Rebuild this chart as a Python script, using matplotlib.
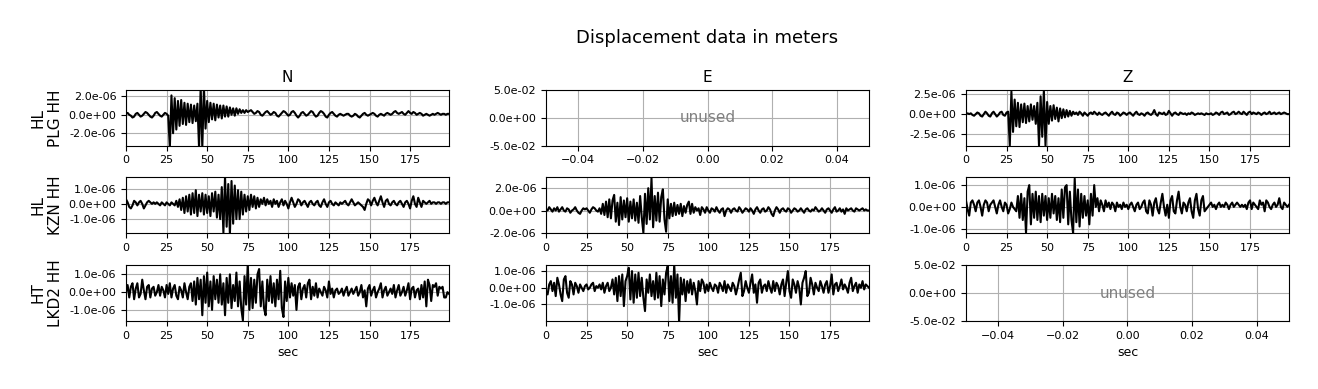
import numpy as np
import matplotlib
matplotlib.use("Agg")
import matplotlib.pyplot as plt
from matplotlib.ticker import FormatStrFormatter

# displacement traces, one value per second, in micrometres
plg_n = [
    0.1, 0.2, 0.0, -0.1, -0.3, -0.2, 0.1, 0.2, 0.0, -0.2,
    -0.1, 0.1, 0.3, 0.2, 0.0, -0.2, -0.3, -0.1, 0.2, 0.3,
    0.1, -0.1, -0.2, 0.0, 0.2, 0.1, -0.1, -3.6, 2.1, -2.0,
    1.8, -1.6, 1.5, -1.2, 1.6, -1.0, 1.3, -1.1, 1.2, -0.8,
    1.1, -0.9, 1.0, -0.7, 1.2, -3.6, 3.0, -3.6, 3.0, -1.5,
    1.5, -0.8, 1.3, -0.5, 1.2, -0.6, 1.1, -0.3, 1.0, -0.4,
    1.0, -0.2, 0.9, -0.2, 0.8, 0.0, 0.7, -0.1, 0.7, 0.1,
    0.6, 0.2, 0.5, 0.2, 0.5, 0.3, 0.4, 0.5, 0.3, 0.1,
    0.2, 0.4, 0.3, 0.0, -0.1, 0.1, 0.3, 0.4, 0.2, 0.0,
    0.1, 0.3, 0.2, -0.1, -0.2, 0.0, 0.2, 0.4, 0.3, 0.1,
    -0.1, 0.0, 0.3, 0.4, 0.2, -0.1, -0.3, -0.1, 0.2, 0.3,
    0.1, -0.1, 0.0, 0.2, 0.4, 0.3, 0.0, -0.2, -0.1, 0.2,
    0.4, 0.3, 0.1, -0.2, -0.3, 0.0, 0.2, 0.3, 0.1, -0.1,
    -0.2, 0.0, 0.1, 0.0, -0.1, 0.0, 0.1, 0.1, -0.1, -0.2,
    -0.1, 0.1, 0.0, -0.2, -0.3, -0.1, 0.1, 0.2, 0.0, -0.1,
    0.0, 0.1, 0.2, 0.1, -0.1, -0.2, 0.0, 0.1, 0.0, -0.1,
    0.1, 0.2, 0.1, 0.0, 0.1, 0.3, 0.4, 0.2, 0.1, 0.2,
    0.3, 0.1, 0.0, 0.2, 0.4, 0.2, 0.1, 0.3, 0.2, 0.0,
    0.1, 0.2, 0.1, -0.1, 0.0, 0.1, 0.0, -0.1, 0.0, 0.1,
    0.0, 0.1, 0.2, 0.1, 0.0, 0.1, 0.1, 0.0, 0.1, 0.1,
]
plg_z = [
    0.0, 0.1, 0.0, 0.1, -0.1, -0.2, 0.0, 0.2, 0.1, -0.2,
    -0.3, 0.0, 0.3, 0.1, -0.2, -0.3, 0.1, 0.3, 0.0, -0.3,
    -0.1, 0.2, 0.3, -0.1, -0.2, 0.2, 0.3, -3.9, 2.8, -2.2,
    1.8, -1.5, 1.4, -1.6, 1.2, -1.0, 1.3, -1.1, 1.0, -0.9,
    1.2, -0.7, 1.0, -1.2, 1.4, -3.9, 2.2, -2.8, 3.0, -3.9,
    1.5, -1.2, 1.0, -0.8, 1.1, -0.6, 0.8, -0.9, 0.7, -0.5,
    0.6, -0.4, 0.5, -0.3, 0.4, -0.2, 0.3, 0.0, 0.2, -0.1,
    0.3, 0.1, -0.2, 0.2, 0.0, -0.2, 0.1, 0.2, 0.0, 0.3,
    0.1, -0.1, 0.2, 0.0, -0.1, 0.1, 0.2, 0.0, -0.2, 0.1,
    0.3, 0.0, -0.1, 0.2, 0.1, -0.2, 0.0, 0.2, 0.1, -0.1,
    0.1, 0.2, 0.0, -0.2, 0.1, 0.3, 0.0, -0.1, 0.1, 0.0,
    -0.2, 0.1, 0.2, 0.0, -0.1, 0.1, 0.5, 0.0, -0.2, 0.2,
    0.1, 0.0, 0.2, -0.1, 0.0, 0.4, 0.1, -0.2, 0.1, 0.2,
    0.0, -0.1, 0.2, 0.1, 0.0, 0.1, -0.1, 0.1, 0.0, 0.2,
    0.1, -0.1, 0.0, 0.1, 0.0, 0.1, 0.0, -0.1, 0.1, 0.0,
    0.0, 0.1, -0.1, 0.0, 0.2, 0.1, -0.1, 0.2, 0.3, 0.0,
    0.1, 0.2, -0.1, 0.0, 0.2, 0.3, 0.0, 0.1, 0.3, 0.1,
    0.0, 0.3, 0.1, -0.1, 0.2, 0.3, 0.0, 0.2, 0.1, 0.0,
    0.2, 0.1, -0.1, 0.1, 0.2, 0.0, 0.1, 0.3, 0.0, 0.1,
    0.2, 0.0, 0.1, 0.2, 0.0, 0.1, 0.2, 0.1, 0.0, 0.0,
]
kzn_n = [
    0.3, 0.1, -0.2, -0.3, -0.1, 0.2, 0.1, -0.1, 0.1, 0.2,
    0.0, -0.3, -0.1, 0.1, 0.2, 0.1, 0.0, 0.1, 0.0, 0.1,
    0.0, -0.1, 0.1, 0.0, -0.1, 0.1, 0.0, -0.1, 0.1, 0.0,
    -0.1, 0.2, -0.2, 0.3, -0.4, 0.4, -0.6, 0.5, -0.5, 0.6,
    -0.7, 0.7, -0.6, 0.9, -0.8, 0.6, -0.5, 0.7, -0.7, 0.6,
    -0.6, 0.5, -0.8, 0.7, -0.5, 0.8, -0.9, 0.6, -1.0, 1.1,
    -1.9, 1.8, -1.5, 1.3, -2.0, 1.5, -1.3, 1.2, -1.0, 0.9,
    -1.0, 0.8, -0.7, 0.6, -0.5, 0.5, -0.4, 0.6, -0.2, 0.5,
    -0.3, 0.4, -0.2, 0.3, 0.0, 0.4, -0.1, 0.3, 0.0, 0.2,
    -0.2, 0.3, 0.0, 0.2, -0.2, 0.1, 0.3, -0.1, 0.2, 0.0,
    -0.3, 0.1, 0.4, 0.1, -0.2, 0.0, 0.3, 0.2, -0.1, 0.1,
    0.2, 0.0, -0.2, 0.1, 0.2, 0.0, -0.1, 0.1, 0.2, -0.1,
    -0.2, 0.1, 0.3, 0.0, -0.2, 0.1, 0.2, 0.0, -0.1, 0.1,
    0.0, -0.1, 0.1, 0.0, 0.1, 0.2, 0.0, -0.1, 0.1, 0.3,
    0.1, -0.1, 0.0, 0.1, 0.0, -0.1, -0.2, -0.4, 0.0, 0.3,
    0.2, -0.1, 0.2, 0.4, 0.1, -0.1, 0.2, 0.5, 0.1, -0.2,
    0.2, 0.3, 0.0, -0.1, 0.1, 0.2, 0.0, -0.1, 0.1, 0.2,
    0.0, -0.2, 0.1, 0.2, 0.0, -0.3, 0.2, 0.5, 0.0, -0.2,
    0.4, 0.1, -0.2, 0.2, 0.1, 0.0, 0.1, 0.2, 0.0, 0.1,
    0.1, 0.0, 0.1, 0.1, 0.0, 0.1, 0.1, 0.0, 0.1, 0.1,
]
kzn_e = [
    0.1, 0.0, 0.3, 0.1, -0.1, 0.2, 0.0, 0.3, -0.1, 0.1,
    0.3, 0.0, -0.1, 0.2, 0.1, -0.2, 0.0, 0.1, 0.3, 0.0,
    -0.2, -0.3, 0.0, 0.2, 0.1, 0.2, 0.0, -0.2, 0.1, 0.3,
    0.2, 0.0, -0.1, 0.2, -0.3, 0.6, -0.4, 0.8, -0.6, 1.0,
    -0.7, 0.9, 1.4, -1.0, 0.7, -1.3, 1.2, -0.8, 0.9, -0.6,
    1.1, -1.0, 0.8, -0.7, 1.0, -0.9, 0.7, -1.1, 1.3, -0.6,
    -2.0, 1.5, -1.2, 2.0, -0.8, 2.9, -1.5, 1.3, -0.9, 1.6,
    -1.0, 1.2, 1.9, -0.8, -1.9, 1.0, -0.7, 0.6, -0.5, 0.7,
    -0.4, 0.5, -0.3, 0.6, -0.5, 0.4, -0.2, 0.5, 0.8, -0.3,
    0.6, -0.2, 0.3, 0.0, 0.2, -0.4, 0.3, 0.1, -0.2, 0.3,
    0.0, -0.2, 0.2, 0.1, -0.1, 0.3, 0.0, -0.2, 0.1, 0.2,
    -0.5, 0.0, 0.2, 0.1, -0.2, 0.1, 0.2, 0.0, -0.1, 0.3,
    0.1, -0.2, 0.0, 0.2, 0.1, -0.1, 0.2, 0.0, -0.3, 0.1,
    0.3, 0.0, -0.2, 0.1, 0.2, -0.1, 0.0, 0.3, 0.1, -0.3,
    -0.5, 0.0, 0.3, 0.1, -0.2, 0.1, 0.2, 0.0, -0.1, 0.2,
    0.1, -0.2, 0.0, 0.2, 0.1, -0.1, 0.0, 0.2, 0.0, -0.2,
    0.1, 0.2, 0.0, -0.1, 0.1, 0.0, 0.3, 0.1, -0.1, 0.0,
    0.2, 0.0, -0.2, 0.1, 0.2, 0.0, -0.2, 0.1, 0.3, -0.1,
    0.0, 0.2, -0.1, 0.1, -0.3, 0.2, 0.0, 0.1, 0.2, 0.0,
    -0.1, 0.2, 0.1, 0.0, 0.1, 0.2, 0.0, 0.1, 0.0, 0.0,
]
kzn_z = [
    0.3, -0.1, -0.4, 0.2, 0.3, 0.1, -0.2, 0.2, 0.3, 0.0,
    -0.4, 0.1, 0.3, 0.2, -0.2, 0.1, 0.2, 0.3, 0.0, -0.3,
    0.1, 0.3, 0.0, -0.2, 0.2, 0.1, -0.3, -0.1, 0.2, 0.0,
    -0.1, -0.2, 0.5, -0.5, 0.6, -0.6, 0.4, -1.2, 0.7, 1.0,
    -0.8, 0.6, -0.5, 0.7, -0.6, 0.5, -0.7, 0.6, -0.4, 0.5,
    -0.6, 0.4, -0.5, 0.6, -0.3, 0.5, -0.6, 0.4, -0.7, 0.8,
    -0.5, 0.9, 1.0, -0.8, 0.7, -0.6, -1.2, 1.3, -0.7, 0.8,
    -0.9, 0.6, -0.5, 0.5, -0.4, 0.3, -0.8, 0.6, -0.4, 1.0,
    0.0, 0.4, -0.2, 0.3, 0.1, -0.2, 0.3, 0.0, 0.2, -0.1,
    0.2, 0.1, -0.2, 0.2, 0.0, 0.1, -0.1, 0.2, 0.0, 0.1,
    -0.1, 0.1, 0.2, 0.0, -0.2, 0.1, 0.2, -0.1, 0.0, 0.2,
    0.3, -0.2, -0.3, 0.3, 0.1, -0.4, 0.2, 0.4, -0.1, -0.3,
    0.2, 0.6, 0.0, -0.4, 0.1, -0.5, 0.3, 0.5, -0.2, -0.3,
    0.3, 0.7, 0.0, -0.3, 0.2, 0.1, -0.2, 0.2, 0.4, -0.2,
    -0.5, 0.3, 0.6, -0.1, -0.4, 0.3, 0.5, -0.2, -0.1, 0.0,
    0.1, 0.2, 0.0, 0.1, -0.1, 0.1, 0.2, 0.0, 0.1, 0.0,
    0.2, 0.1, -0.1, 0.1, 0.2, 0.0, 0.1, 0.2, 0.1, 0.0,
    0.1, 0.0, 0.1, -0.1, 0.2, 0.3, -0.1, 0.2, 0.1, 0.0,
    -0.1, 0.3, 0.1, 0.2, -0.2, 0.3, 0.2, 0.0, -0.1, 0.1,
    0.2, 0.0, 0.1, 0.4, 0.0, -0.1, 0.2, 0.1, 0.0, 0.1,
]
lkd2_n = [
    0.0, 0.4, -0.3, 0.3, 0.5, -0.4, 0.2, 0.5, -0.3, -0.1,
    0.7, 0.1, -0.4, 0.3, 0.4, -0.3, 0.2, 0.3, -0.2, 0.0,
    0.4, -0.2, 0.3, 0.1, -0.3, 0.4, -0.1, 0.5, -0.3, 0.2,
    0.4, -0.2, -0.4, 0.3, 0.1, -0.3, 0.5, 0.0, -0.4, 0.3,
    0.5, -0.5, 0.6, -0.7, 0.8, -0.4, 0.7, -1.3, 0.9, -0.6,
    1.1, -0.8, 0.6, -1.0, 0.9, -0.4, 0.7, -0.6, 1.0, -0.7,
    0.5, -1.3, 0.8, -0.6, 1.0, -0.9, 0.4, -0.5, 1.1, -0.8,
    0.6, -0.9, -1.6, 0.9, -0.7, 1.6, -1.0, 0.8, -0.9, 0.7,
    -0.6, 1.0, 1.3, -0.8, 0.6, -0.9, -1.3, 0.7, -0.5, 0.9,
    -0.6, 0.5, -0.8, 0.7, -0.4, 1.2, -0.9, -1.4, 0.6, -0.5,
    0.8, -0.3, 0.5, -0.2, 0.4, -1.0, 0.3, 0.5, -0.4, 0.2,
    0.4, -0.3, 0.5, 0.7, -0.4, 0.3, -0.2, 0.5, -0.3, 0.2,
    0.0, -0.2, 0.3, 0.1, -0.3, 0.6, -0.1, 0.2, -0.3, 0.1,
    0.2, -0.1, 0.0, 0.2, -0.2, 0.1, 0.3, -0.2, 0.0, 0.2,
    -0.1, 0.1, 0.3, -0.2, 0.0, 0.4, -0.3, 0.1, -0.8, 0.2,
    0.4, -0.2, 0.1, 0.3, -0.3, 0.0, 0.2, 0.5, -0.3, 0.1,
    0.3, -0.2, 0.0, 0.2, -0.1, 0.4, -0.3, 0.1, 0.4, -0.2,
    0.0, 0.3, -0.2, 0.1, 0.5, -0.4, 0.2, 0.3, -0.3, 0.1,
    0.2, -0.4, 0.4, -0.3, 0.6, -0.8, 0.7, 0.4, -0.5, 0.4,
    0.3, 0.5, -0.2, 0.3, 0.2, 0.3, -0.3, -0.3, 0.0, -0.1,
]
lkd2_e = [
    -0.3, -0.4, 0.2, 0.4, -0.2, 0.3, -0.5, 0.6, 0.2, -0.4,
    -0.8, 0.5, 0.7, -0.3, -0.6, 0.4, 0.2, -0.4, 0.3, 0.1,
    -0.3, 0.2, 0.0, -0.2, 0.1, 0.2, -0.1, 0.0, 0.2, 0.3,
    -0.2, 0.1, 0.0, 0.2, -0.1, 0.3, -0.3, 0.1, 0.3, -0.2,
    0.0, 0.5, -0.4, 0.6, -0.8, 0.7, -0.5, 0.8, -1.1, 0.4,
    0.7, 1.2, -0.7, 1.0, -0.9, 0.8, -0.6, 0.9, -0.5, 0.6,
    -0.6, -1.4, 0.5, -0.3, 0.8, -0.5, 0.4, -0.7, 0.9, -0.6,
    0.7, -1.1, 0.5, -0.4, 0.9, 1.3, -0.8, 0.7, -0.9, 1.4,
    -0.6, 0.8, -2.1, 0.6, -0.4, 0.5, -0.8, 0.4, -0.3, 0.5,
    -0.4, 0.3, -0.2, -1.0, 0.4, -0.2, 0.5, 0.3, -0.3, 0.2,
    -0.2, 0.3, 0.0, -0.2, 0.2, 0.1, -0.3, 0.3, 0.1, -0.2,
    0.4, -0.3, 0.2, 0.0, -0.2, 0.3, 0.1, -0.4, 0.0, 0.5,
    0.9, -0.5, -0.2, 0.4, 0.0, -0.3, 0.3, 0.8, -0.3, 0.2,
    -0.9, 0.3, 0.5, -0.3, 0.1, 0.2, -0.2, 0.4, 0.0, -0.3,
    0.4, -0.2, 0.3, 0.1, -0.4, 0.2, 0.5, -0.5, 0.3, 1.0,
    -0.2, -0.6, 0.5, 0.2, -0.3, 0.4, 0.0, -1.0, 0.3, 0.6,
    1.0, -0.5, -0.3, 0.6, 0.2, -0.4, 0.3, 0.0, -0.2, 0.4,
    0.1, -0.3, 0.2, 0.4, -0.3, 0.1, 0.8, -0.4, 0.2, 0.3,
    -0.2, 0.1, 0.5, -0.1, 0.2, 0.0, -0.3, 0.3, 0.6, -0.2,
    0.1, 0.3, -0.3, 0.2, 0.0, 0.4, -0.1, 0.2, 0.1, 0.0,
]

components = ["N", "E", "Z"]
station_labels = ["HL\nPLG HH", "HL\nKZN HH", "HT\nLKD2 HH"]

# one row per station, None where the component is missing
traces = [
    [plg_n, None, plg_z],
    [kzn_n, kzn_e, kzn_z],
    [lkd2_n, lkd2_e, None],
]
y_limits = [
    [(-3.35, 2.7), None, (-3.9, 3.0)],
    [(-1.93, 1.73), (-2.04, 2.96), (-1.21, 1.35)],
    [(-1.62, 1.52), (-1.99, 1.36), None],
]
y_ticks = [
    [[-2.0, 0.0, 2.0], None, [-2.5, 0.0, 2.5]],
    [[-1.0, 0.0, 1.0], [-2.0, 0.0, 2.0], [-1.0, 0.0, 1.0]],
    [[-1.0, 0.0, 1.0], [-1.0, 0.0, 1.0], None],
]

left, right = 0.0956, 0.978
fig, axes = plt.subplots(3, 3, figsize=(13.18, 3.89), dpi=100)
fig.subplots_adjust(left=left, right=right, top=0.769, bottom=0.175,
                    wspace=0.30, hspace=0.57)
fig.suptitle("Displacement data in meters", fontsize=13,
             x=(left + right) / 2, y=0.925)

for i in range(3):
    for j in range(3):
        ax = axes[i, j]
        data = traces[i][j]
        if data is None:
            ax.set_xlim(-0.05, 0.05)
            ax.set_ylim(-0.05, 0.05)
            ax.set_yticks([-0.05, 0.0, 0.05])
            ax.text(0.5, 0.5, "unused", transform=ax.transAxes,
                    ha="center", va="center", color="gray", fontsize=11)
        else:
            vals = np.array(data) * 1e-6
            t = np.arange(len(vals))
            ax.plot(t, vals, color="black", lw=1.5)
            ax.set_xlim(0, t[-1])
            ax.set_xticks(np.arange(0, 200, 25))
            lo, hi = y_limits[i][j]
            ax.set_ylim(lo * 1e-6, hi * 1e-6)
            ax.set_yticks(np.array(y_ticks[i][j]) * 1e-6)
        ax.yaxis.set_major_formatter(FormatStrFormatter("%.1e"))
        ax.tick_params(labelsize=8)
        ax.grid(True)
        if i == 0:
            ax.set_title(components[j], fontsize=11)
        if j == 0:
            ax.set_ylabel(station_labels[i], fontsize=11)
        if i == 2:
            ax.set_xlabel("sec", fontsize=9)

plt.savefig("out.png")
